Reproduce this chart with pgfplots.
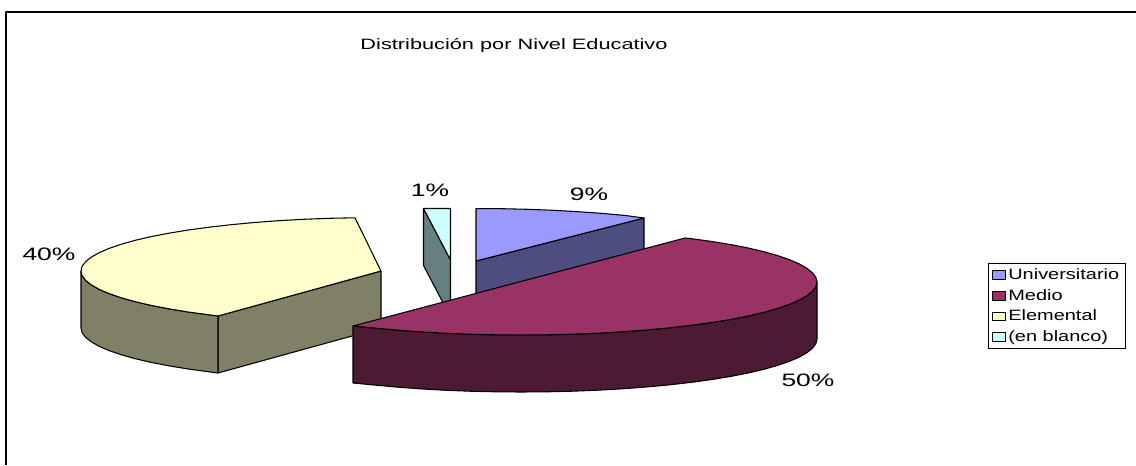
\documentclass[border=0pt]{standalone}
\usepackage{pgfplots}
\pgfplotsset{compat=1.18}
\usepackage{fontspec}
\setmainfont{Liberation Sans}
\definecolor{uni}{HTML}{9999FF}\definecolor{unis}{HTML}{4D4D80}
\definecolor{med}{HTML}{993366}\definecolor{meds}{HTML}{4D1A33}
\definecolor{ele}{HTML}{FFFFCC}\definecolor{eles}{HTML}{808066}
\definecolor{bla}{HTML}{CCFFFF}\definecolor{blas}{HTML}{668080}
\begin{document}
\begin{tikzpicture}
\begin{axis}[
  scale only axis, width=852pt, height=348.75pt,
  xmin=0, xmax=1136, ymin=0, ymax=465, y dir=reverse,
  hide axis, clip=false,
  legend style={at={(axis cs:988,263)}, anchor=north west, draw=black, line width=0.6pt,
    inner xsep=3pt, inner ysep=1pt, row sep=0pt, font=\fontsize{11.25}{12}\selectfont,
    nodes={text height=10pt, text depth=3.5pt, inner ysep=1pt, inner xsep=1.5pt}},
  legend cell align=left,
  legend image code/.code={\draw[#1, line width=0.7pt] (0pt,-3.3pt) rectangle (9.75pt,3.3pt);},
  every axis plot/.append style={draw=black, line width=0.8pt, line join=round},
]
\path[use as bounding box] (axis cs:0,0) rectangle (axis cs:1136,465);
% frame of the chart area
\addplot[forget plot, draw=black, line width=1.8pt, line cap=butt] coordinates {(6,465) (6,12) (1136,12)};
% Elemental
\addplot[forget plot, fill=eles] coordinates {(218,316) (381,271) (381,328) (218,373)} -- cycle;
\addplot[forget plot, fill=eles] coordinates {(81,271) (82.1,275.7) (85.6,280.3) (91.2,284.8) (99.1,289.3) (109.1,293.6) (121.2,297.75) (135.2,301.7) (151.2,305.4) (168.9,308.8) (188.2,312) (208.9,314.8) (218,316)
  (218,373) (208.9,371.8) (188.2,369) (168.9,365.8) (151.2,362.4) (135.2,358.7) (121.2,354.75) (109.1,350.6) (99.1,346.3) (91.2,341.8) (85.6,337.3) (82.1,332.7) (81,328)} -- cycle;
% en blanco, side
\addplot[forget plot, fill=blas] coordinates {(423.5,208.5) (450.5,260) (450.5,317) (423.5,265.5)} -- cycle;
% Universitario, side
\addplot[forget plot, fill=unis] coordinates {(476,261) (644,218) (644,275) (476,318)} -- cycle;
% Medio, side
\addplot[forget plot, fill=meds] coordinates {(817,282) (815.9,286.6) (812.5,291.2) (806.9,295.7) (799.2,300.1) (789.3,304.4) (777.3,308.5) (763.5,312.4) (747.7,316.1) (730.3,319.5) (711.3,322.6) (690.8,325.4) (669,327.9) (646.1,330) (622.2,331.8) (597.6,333.2) (572.4,334.2) (546.8,334.8) (521,335) (495.2,334.8) (469.6,334.2) (444.4,333.2) (419.8,331.8) (395.9,330) (373,327.9) (353,326)
  (353,383) (373,384.9) (395.9,387) (419.8,388.8) (444.4,390.2) (469.6,391.2) (495.2,391.8) (521,392) (546.8,391.8) (572.4,391.2) (597.6,390.2) (622.2,388.8) (646.1,387) (669,384.9) (690.8,382.4) (711.3,379.6) (730.3,376.5) (747.7,373.1) (763.5,369.4) (777.3,365.5) (789.3,361.4) (799.2,357.1) (806.9,352.7) (812.5,348.2) (815.9,343.6) (817,339)} -- cycle;
% top faces, which carry the legend
\addplot[fill=uni] coordinates {(476,261) (476,208.6) (502,208.7) (528,209.3) (553.4,210.3) (578.3,211.7) (602.4,213.4) (625.5,215.5) (644,218)} -- cycle;
\addlegendentry{\scalebox{1.33}[1]{Universitario}}
\addplot[fill=med] coordinates {(353,326) (685,238) (690.8,238.6) (711.3,241.4) (730.3,244.5) (747.7,247.9) (763.5,251.6) (777.3,255.5) (789.3,259.6) (799.2,263.9) (806.9,268.3) (812.5,272.8) (815.9,277.4) (817,282) (815.9,286.6) (812.5,291.2) (806.9,295.7) (799.2,300.1) (789.3,304.4) (777.3,308.5) (763.5,312.4) (747.7,316.1) (730.3,319.5) (711.3,322.6) (690.8,325.4) (669,327.9) (646.1,330) (622.2,331.8) (597.6,333.2) (572.4,334.2) (546.8,334.8) (521,335) (495.2,334.8) (469.6,334.2) (444.4,333.2) (419.8,331.8) (395.9,330) (373,327.9)} -- cycle;
\addlegendentry{\scalebox{1.33}[1]{Medio}}
\addplot[fill=ele] coordinates {(381,271) (355,217.8) (329,218.3) (303.4,219.3) (278.4,220.7) (254.2,222.5) (231,224.7) (208.9,227.2) (188.2,230) (168.9,233.2) (151.2,236.6) (135.2,240.3) (121.2,244.25) (109.1,248.4) (99.1,252.7) (91.2,257.2) (85.6,261.7) (82.1,266.3) (81,271) (82.1,275.7) (85.6,280.3) (91.2,284.8) (99.1,289.3) (109.1,293.6) (121.2,297.75) (135.2,301.7) (151.2,305.4) (168.9,308.8) (188.2,312) (208.9,314.8) (218,316)} -- cycle;
\addlegendentry{\scalebox{1.33}[1]{Elemental}}
\addplot[fill=bla] coordinates {(423.5,208.5) (450.5,208.5) (450.5,260)} -- cycle;
\addlegendentry{\scalebox{1.33}[1]{(en blanco)}}
\node at (axis cs:514,46) {\fontsize{11.25}{12}\selectfont\scalebox{1.45}[1]{Distribución por Nivel Educativo}};
\node at (axis cs:49,254) {\fontsize{13.5}{15}\selectfont\scalebox{1.47}[1]{40\%}};
\node at (axis cs:430,190) {\fontsize{13.5}{15}\selectfont\scalebox{1.47}[1]{1\%}};
\node at (axis cs:589,194) {\fontsize{13.5}{15}\selectfont\scalebox{1.47}[1]{9\%}};
\node at (axis cs:808,380) {\fontsize{13.5}{15}\selectfont\scalebox{1.47}[1]{50\%}};
\end{axis}
\end{tikzpicture}
\end{document}
